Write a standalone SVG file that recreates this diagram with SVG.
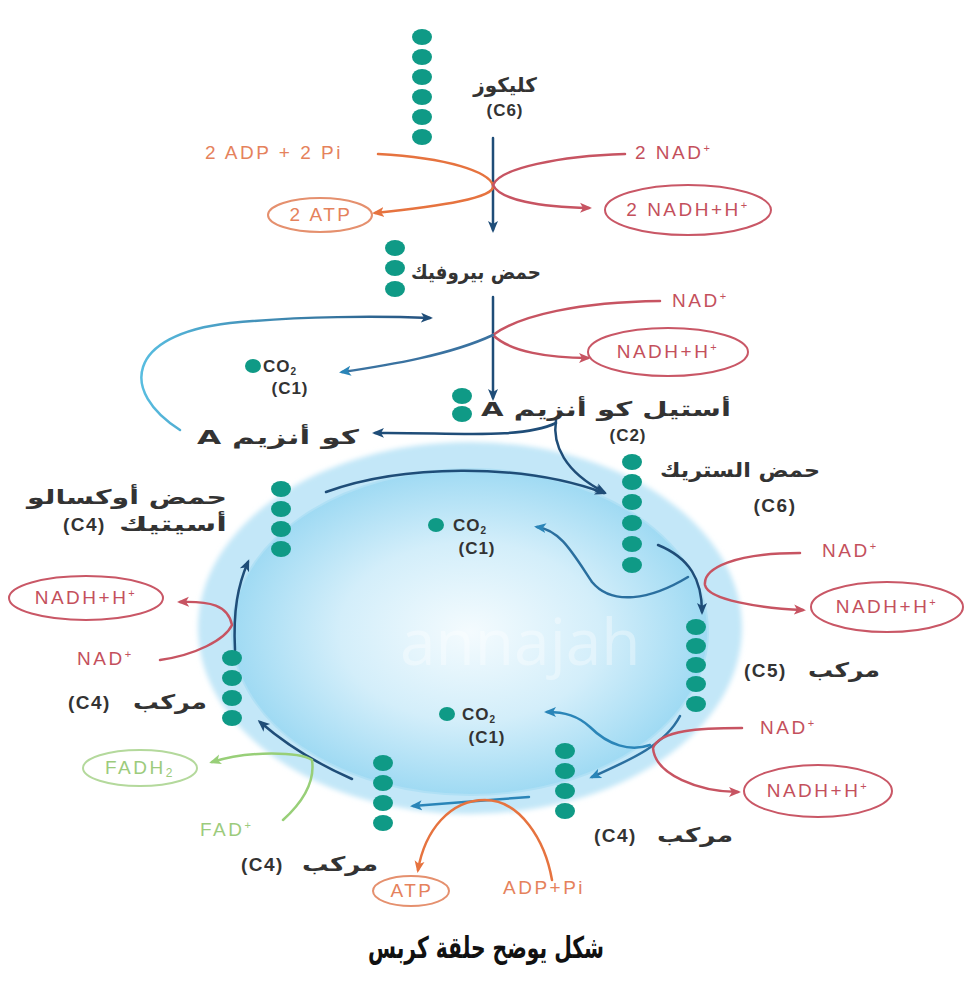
<svg xmlns="http://www.w3.org/2000/svg" width="971" height="987" viewBox="0 0 971 987">
<defs>
<style>
.dot{fill:#0f9a86}
.ar{font-family:"DejaVu Sans",sans-serif;font-size:20px;font-weight:bold;fill:#333;direction:rtl}
.lt{font-family:"Liberation Sans","DejaVu Sans",sans-serif;font-size:19px;letter-spacing:2.5px}
.red{fill:#c4505c}
.org{fill:#e5825c}
.grn{fill:#9ccb7c}
.blk{fill:#333;font-family:"Liberation Sans",sans-serif;font-size:17px;font-weight:bold;letter-spacing:1px}
.pc{fill:#333;font-family:"Liberation Sans",sans-serif;font-size:19px;font-weight:bold;letter-spacing:1.5px}
.eR{fill:#fff;stroke:#c95766;stroke-width:2}
.eO{fill:#fff;stroke:#e5906e;stroke-width:2}
.eG{fill:#fff;stroke:#b4d99c;stroke-width:2}
.cn{fill:none;stroke-width:2.5;stroke-linecap:round}
.dk{stroke:#1f4d78}
.bl{stroke:#2a85b8}
.rd{stroke:#c75462}
.or{stroke:#e6733f}
.gr{stroke:#98cf78}
</style>
<radialGradient id="core" cx="0.5" cy="0.5" r="0.5">
<stop offset="0" stop-color="#f4fbfe"/>
<stop offset="0.55" stop-color="#d3eefa"/>
<stop offset="1" stop-color="#9fdaf3"/>
</radialGradient>
<linearGradient id="loopG" gradientUnits="userSpaceOnUse" x1="140" y1="0" x2="430" y2="0">
<stop offset="0" stop-color="#58bde0"/>
<stop offset="1" stop-color="#24507e"/>
</linearGradient>
<filter id="soft" x="-10%" y="-10%" width="120%" height="120%"><feGaussianBlur stdDeviation="2.5"/></filter>
<marker id="mD" markerWidth="12" markerHeight="12" refX="9" refY="6" orient="auto" markerUnits="userSpaceOnUse"><path d="M0,1 L12,6 L0,11 L3,6 z" fill="#1f4d78"/></marker>
<marker id="mB" markerWidth="12" markerHeight="12" refX="9" refY="6" orient="auto" markerUnits="userSpaceOnUse"><path d="M0,1 L12,6 L0,11 L3,6 z" fill="#2a85b8"/></marker>
<marker id="mR" markerWidth="12" markerHeight="12" refX="9" refY="6" orient="auto" markerUnits="userSpaceOnUse"><path d="M0,1 L12,6 L0,11 L3,6 z" fill="#c75462"/></marker>
<marker id="mO" markerWidth="12" markerHeight="12" refX="9" refY="6" orient="auto" markerUnits="userSpaceOnUse"><path d="M0,1 L12,6 L0,11 L3,6 z" fill="#e6733f"/></marker>
<marker id="mG" markerWidth="12" markerHeight="12" refX="9" refY="6" orient="auto" markerUnits="userSpaceOnUse"><path d="M0,1 L12,6 L0,11 L3,6 z" fill="#98cf78"/></marker>
</defs>
<rect width="971" height="987" fill="#fff"/>

<g id="mitochondrion">
<ellipse cx="470" cy="628" rx="272" ry="186" fill="#c3e7f8" filter="url(#soft)"/>
<ellipse cx="470" cy="632" rx="238" ry="163" fill="url(#core)" stroke="#b0e0f5" stroke-width="2"/>
<text x="400" y="665" font-family="Open Sans, sans-serif" font-size="64" fill="#ffffff" fill-opacity="0.35">annajah</text>
</g>

<g id="connectors">
<path class="cn dk" d="M493,138 L493,230" marker-end="url(#mD)"/>
<path class="cn or" d="M378,154 C450,158 488,172 493,185 C497,198 440,206 375,213" marker-end="url(#mO)"/>
<path class="cn rd" d="M625,154 C560,156 500,168 493,185 C500,200 540,207 589,208" marker-end="url(#mR)"/>
<path class="cn dk" d="M493,297 L493,398" marker-end="url(#mD)"/>
<path class="cn rd" d="M660,301 C580,302 520,315 493,335"/>
<path class="cn rd" d="M493,335 C510,352 550,358 588,358" marker-end="url(#mR)"/>
<path class="cn" stroke="#3a72a0" d="M493,335 C450,355 390,365 342,372" marker-end="url(#mB)"/>
<path class="cn" stroke="url(#loopG)" d="M180,430 C120,392 125,335 230,323 C300,316 380,316 430,318" marker-end="url(#mD)"/>
<path class="cn dk" d="M556,423 C520,440 450,432 375,433" marker-end="url(#mD)"/>
<path class="cn dk" d="M556,420 C552,445 565,472 604,492" marker-end="url(#mD)"/>
<path class="cn dk" d="M326,492 C400,465 520,462 604,493" marker-end="url(#mD)"/>
<path class="cn dk" d="M658,545 C690,558 702,580 702,612" marker-end="url(#mD)"/>
<path class="cn" stroke="#2a6f9f" d="M688,577 C650,600 612,606 592,582 C572,552 560,530 537,527" marker-end="url(#mB)"/>
<path class="cn rd" d="M800,553 C735,553 703,568 705,585 C708,600 760,608 803,610" marker-end="url(#mR)"/>
<path class="cn" stroke="#2a6f9f" d="M680,716 C665,745 630,760 592,777" marker-end="url(#mB)"/>
<path class="cn bl" d="M650,745 C630,752 608,745 590,727 C578,716 565,712 547,712" marker-end="url(#mB)"/>
<path class="cn rd" d="M742,728 C700,728 660,730 653,748 C655,775 700,792 738,792" marker-end="url(#mR)"/>
<path class="cn bl" d="M529,797 C490,800 450,803 413,806" marker-end="url(#mB)"/>
<path class="cn or" d="M552,880 C545,840 520,800 485,800 C450,800 425,830 418,870" marker-end="url(#mO)"/>
<path class="cn dk" d="M352,779 C320,765 290,748 260,722" marker-end="url(#mD)"/>
<path class="cn gr" d="M283,820 C305,800 315,780 312,760 C300,752 250,750 212,762" marker-end="url(#mG)"/>
<path class="cn dk" d="M235,650 C233,610 238,585 248,562" marker-end="url(#mD)"/>
<path class="cn rd" d="M160,660 C195,655 225,640 232,625 C228,605 210,601 180,602" marker-end="url(#mR)"/>
</g>

<g id="glucose">
<ellipse class="dot" cx="422" cy="37" rx="10" ry="8"/><ellipse class="dot" cx="422" cy="57" rx="10" ry="8"/><ellipse class="dot" cx="422" cy="77" rx="10" ry="8"/><ellipse class="dot" cx="422" cy="97" rx="10" ry="8"/><ellipse class="dot" cx="422" cy="117" rx="10" ry="8"/><ellipse class="dot" cx="422" cy="137" rx="10" ry="8"/>
<text class="ar" x="505" y="92" text-anchor="middle">كليكوز</text>
<text class="blk" x="505" y="116" text-anchor="middle">(C6)</text>
</g>

<g id="adp-top"><text class="lt org" x="205" y="159">2 ADP + 2 Pi</text></g>
<g id="atp-top"><ellipse class="eO" cx="320" cy="215" rx="52" ry="17"/><text class="lt org" x="321" y="221" text-anchor="middle">2 ATP</text></g>
<g id="nad-top"><text class="lt red" x="635" y="159">2 NAD<tspan font-size="11" dy="-7">+</tspan></text></g>
<g id="nadh-top"><ellipse class="eR" cx="688" cy="210" rx="83" ry="25"/><text class="lt red" x="688" y="216" text-anchor="middle">2 NADH+H<tspan font-size="11" dy="-7">+</tspan></text></g>

<g id="pyruvate">
<ellipse class="dot" cx="395" cy="248" rx="10" ry="8"/><ellipse class="dot" cx="395" cy="268" rx="10" ry="8"/><ellipse class="dot" cx="395" cy="289" rx="10" ry="8"/>
<text class="ar" x="476" y="279" text-anchor="middle" font-size="22" textLength="130" lengthAdjust="spacingAndGlyphs">حمض بيروفيك</text>
</g>

<g id="nad-pyr"><text class="lt red" x="672" y="307">NAD<tspan font-size="11" dy="-7">+</tspan></text></g>
<g id="nadh-pyr"><ellipse class="eR" cx="668" cy="352" rx="80" ry="24"/><text class="lt red" x="668" y="358" text-anchor="middle">NADH+H<tspan font-size="11" dy="-7">+</tspan></text></g>

<g id="co2-a">
<ellipse class="dot" cx="253" cy="366" rx="8" ry="7"/>
<text class="blk" x="263" y="372">CO<tspan font-size="10" dy="3">2</tspan></text>
<text class="blk" x="290" y="394" text-anchor="middle">(C1)</text>
</g>

<g id="acetyl">
<ellipse class="dot" cx="462" cy="396" rx="10" ry="8"/><ellipse class="dot" cx="462" cy="414" rx="10" ry="8"/>
<text class="ar" x="606" y="416" text-anchor="middle" font-size="22" textLength="250" lengthAdjust="spacingAndGlyphs">أستيل كو أنزيم A</text>
<text class="blk" x="628" y="441" text-anchor="middle">(C2)</text>
</g>

<g id="coa"><text class="ar" x="278" y="444" text-anchor="middle" font-size="22" textLength="162" lengthAdjust="spacingAndGlyphs">كو أنزيم A</text></g>

<g id="citrate">
<ellipse class="dot" cx="632" cy="462" rx="10" ry="8"/><ellipse class="dot" cx="632" cy="482" rx="10" ry="8"/><ellipse class="dot" cx="632" cy="502" rx="10" ry="8"/><ellipse class="dot" cx="632" cy="523" rx="10" ry="8"/><ellipse class="dot" cx="632" cy="544" rx="10" ry="8"/><ellipse class="dot" cx="632" cy="565" rx="10" ry="8"/>
<text class="ar" x="740" y="477" text-anchor="middle" textLength="160" lengthAdjust="spacingAndGlyphs">حمض الستريك</text>
<text class="pc" x="775" y="512" text-anchor="middle">(C6)</text>
</g>

<g id="co2-b">
<ellipse class="dot" cx="436" cy="525" rx="8" ry="7"/>
<text class="blk" x="453" y="531">CO<tspan font-size="10" dy="3">2</tspan></text>
<text class="blk" x="477" y="554" text-anchor="middle">(C1)</text>
</g>

<g id="nad-r1"><text class="lt red" x="822" y="557">NAD<tspan font-size="11" dy="-7">+</tspan></text></g>
<g id="nadh-r1"><ellipse class="eR" cx="887" cy="607" rx="76" ry="25"/><text class="lt red" x="887" y="613" text-anchor="middle">NADH+H<tspan font-size="11" dy="-7">+</tspan></text></g>

<g id="c5">
<ellipse class="dot" cx="696" cy="627" rx="10" ry="8"/><ellipse class="dot" cx="696" cy="646" rx="10" ry="8"/><ellipse class="dot" cx="696" cy="665" rx="10" ry="8"/><ellipse class="dot" cx="696" cy="684" rx="10" ry="8"/><ellipse class="dot" cx="696" cy="704" rx="10" ry="8"/>
<text class="ar" x="844" y="677" text-anchor="middle" textLength="72" lengthAdjust="spacingAndGlyphs">مركب</text>
<text class="pc" x="744" y="677">(C5)</text>
</g>

<g id="co2-c">
<ellipse class="dot" cx="447" cy="714" rx="8" ry="7"/>
<text class="blk" x="462" y="720">CO<tspan font-size="10" dy="3">2</tspan></text>
<text class="blk" x="487" y="743" text-anchor="middle">(C1)</text>
</g>

<g id="nad-r2"><text class="lt red" x="760" y="734">NAD<tspan font-size="11" dy="-7">+</tspan></text></g>
<g id="nadh-r2"><ellipse class="eR" cx="818" cy="791" rx="74" ry="26"/><text class="lt red" x="818" y="797" text-anchor="middle">NADH+H<tspan font-size="11" dy="-7">+</tspan></text></g>

<g id="c4-right">
<ellipse class="dot" cx="565" cy="751" rx="10" ry="8"/><ellipse class="dot" cx="565" cy="771" rx="10" ry="8"/><ellipse class="dot" cx="565" cy="791" rx="10" ry="8"/><ellipse class="dot" cx="565" cy="811" rx="10" ry="8"/>
<text class="ar" x="695" y="842" text-anchor="middle" textLength="76" lengthAdjust="spacingAndGlyphs">مركب</text>
<text class="pc" x="594" y="842">(C4)</text>
</g>

<g id="adp-bottom"><text class="lt org" x="503" y="894">ADP+Pi</text></g>
<g id="atp-bottom"><ellipse class="eO" cx="411" cy="891" rx="38" ry="15"/><text class="lt org" x="412" y="897" text-anchor="middle">ATP</text></g>

<g id="c4-bottom">
<ellipse class="dot" cx="383" cy="763" rx="10" ry="8"/><ellipse class="dot" cx="383" cy="783" rx="10" ry="8"/><ellipse class="dot" cx="383" cy="803" rx="10" ry="8"/><ellipse class="dot" cx="383" cy="823" rx="10" ry="8"/>
<text class="ar" x="340" y="871" text-anchor="middle" textLength="76" lengthAdjust="spacingAndGlyphs">مركب</text>
<text class="pc" x="241" y="871">(C4)</text>
</g>

<g id="fad"><text class="lt grn" x="200" y="836">FAD<tspan font-size="11" dy="-7">+</tspan></text></g>
<g id="fadh2"><ellipse class="eG" cx="140" cy="768" rx="57" ry="18"/><text class="lt grn" x="140" y="774" text-anchor="middle">FADH<tspan font-size="12" dy="3">2</tspan></text></g>

<g id="c4-left">
<ellipse class="dot" cx="232" cy="658" rx="10" ry="8"/><ellipse class="dot" cx="232" cy="678" rx="10" ry="8"/><ellipse class="dot" cx="232" cy="698" rx="10" ry="8"/><ellipse class="dot" cx="232" cy="718" rx="10" ry="8"/>
<text class="ar" x="170" y="709" text-anchor="middle" textLength="74" lengthAdjust="spacingAndGlyphs">مركب</text>
<text class="pc" x="68" y="709">(C4)</text>
</g>

<g id="nad-l"><text class="lt red" x="77" y="665">NAD<tspan font-size="11" dy="-7">+</tspan></text></g>
<g id="nadh-l"><ellipse class="eR" cx="86" cy="598" rx="77" ry="22"/><text class="lt red" x="86" y="604" text-anchor="middle">NADH+H<tspan font-size="11" dy="-7">+</tspan></text></g>

<g id="oxaloacetate">
<ellipse class="dot" cx="281" cy="489" rx="10" ry="8"/><ellipse class="dot" cx="281" cy="509" rx="10" ry="8"/><ellipse class="dot" cx="281" cy="529" rx="10" ry="8"/><ellipse class="dot" cx="281" cy="549" rx="10" ry="8"/>
<text class="ar" x="127" y="504" text-anchor="middle" font-size="22" textLength="200" lengthAdjust="spacingAndGlyphs">حمض أوكسالو</text>
<text class="ar" x="173" y="531" text-anchor="middle" font-size="22" textLength="108" lengthAdjust="spacingAndGlyphs">أسيتيك</text>
<text class="pc" x="63" y="531">(C4)</text>
</g>

<g id="title"><text x="486" y="958" text-anchor="middle" font-family="DejaVu Sans, sans-serif" font-size="30" font-weight="bold" fill="#111" direction="rtl" textLength="236" lengthAdjust="spacingAndGlyphs">شكل يوضح حلقة كربس</text></g>
</svg>
